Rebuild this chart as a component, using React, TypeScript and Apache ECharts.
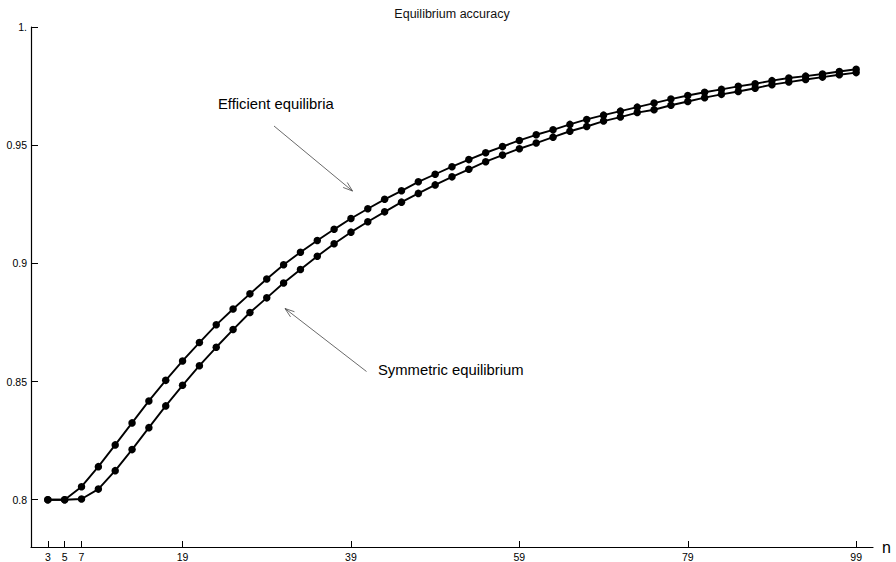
import React, { useEffect, useRef } from 'react';
import * as echarts from 'echarts';

const nValues = [3, 5, 7, 9, 11, 13, 15, 17, 19, 21, 23, 25, 27, 29, 31, 33, 35, 37, 39, 41, 43, 45, 47, 49, 51, 53, 55, 57, 59, 61, 63, 65, 67, 69, 71, 73, 75, 77, 79, 81, 83, 85, 87, 89, 91, 93, 95, 97, 99];

const efficient = [0.8, 0.8, 0.8055, 0.814, 0.8232, 0.8325, 0.8418, 0.8505, 0.8587, 0.8665, 0.874, 0.8807,
  0.8871, 0.8934, 0.8994, 0.9047, 0.9097, 0.9144, 0.919, 0.9231, 0.9271, 0.9307, 0.9345, 0.9377, 0.9409,
  0.9439, 0.9468, 0.9494, 0.952, 0.9544, 0.9565, 0.9588, 0.9609, 0.9627, 0.9644, 0.9661, 0.9678, 0.9695,
  0.971, 0.9724, 0.9736, 0.9749, 0.976, 0.9773, 0.9784, 0.9792, 0.9801, 0.9812, 0.9821];

const symmetric = [0.8, 0.8, 0.8003, 0.8045, 0.8123, 0.8212, 0.8305, 0.8397, 0.8484, 0.8567, 0.8645, 0.872,
  0.8792, 0.8854, 0.8917, 0.8974, 0.903, 0.9083, 0.9132, 0.9176, 0.9218, 0.9259, 0.9296, 0.9332, 0.9366,
  0.9398, 0.943, 0.9458, 0.9485, 0.9509, 0.9534, 0.9559, 0.9579, 0.9602, 0.9619, 0.9638, 0.965, 0.9669,
  0.9685, 0.9701, 0.9715, 0.9727, 0.9741, 0.9756, 0.9767, 0.9778, 0.9788, 0.9798, 0.9807];

const xTicks = [3, 5, 7, 19, 39, 59, 79, 99];
const yTicks = [0.8, 0.85, 0.9, 0.95, 1];

const FONT = '"Liberation Sans", Arial, Helvetica, sans-serif';

function arrow(x1: number, y1: number, x2: number, y2: number) {
  const a = Math.atan2(y2 - y1, x2 - x1);
  const L = 10;
  const t = 0.33;
  const p1 = [x2 - L * Math.cos(a - t), y2 - L * Math.sin(a - t)];
  const p2 = [x2 - L * Math.cos(a + t), y2 - L * Math.sin(a + t)];
  const style = { stroke: '#444', lineWidth: 0.8, fill: 'none' };
  return [
    { type: 'line', shape: { x1, y1, x2, y2 }, style },
    { type: 'polyline', shape: { points: [p1, [x2, y2], p2] }, style },
  ];
}

export default function App() {
  const ref = useRef<HTMLDivElement>(null);
  useEffect(() => {
    if (!ref.current) return;
    const chart = echarts.init(ref.current, undefined, { renderer: 'svg' });
    const axisColor = '#000';
    chart.setOption({
      animation: false,
      backgroundColor: '#fff',
      textStyle: { fontFamily: FONT },
      grid: { left: 31, right: 23, top: 27, bottom: 15, containLabel: false },
      xAxis: {
        type: 'value',
        min: 1,
        max: 101,
        name: 'n',
        nameLocation: 'end',
        nameGap: 9,
        nameTextStyle: { fontSize: 16, color: '#000', fontFamily: FONT, verticalAlign: 'middle' },
        axisLine: { show: true, lineStyle: { color: axisColor, width: 1.2 } },
        axisTick: { show: true, inside: true, length: 6, customValues: xTicks, lineStyle: { color: axisColor, width: 1 } },
        axisLabel: { show: true, customValues: xTicks, fontSize: 10.5, color: '#000', margin: 4, fontFamily: FONT },
        splitLine: { show: false },
      },
      yAxis: {
        type: 'value',
        min: 0.78,
        max: 1,
        axisLine: { show: true, lineStyle: { color: axisColor, width: 1.2 } },
        axisTick: { show: true, inside: true, length: 7, customValues: yTicks, lineStyle: { color: axisColor, width: 1 } },
        axisLabel: {
          show: true,
          customValues: yTicks,
          fontSize: 10.5,
          color: '#000',
          margin: 4,
          fontFamily: FONT,
          formatter: (v: number) => (v === 1 ? '1.' : String(Math.round(v * 100) / 100)),
        },
        splitLine: { show: false },
      },
      series: [
        {
          name: 'Efficient equilibria',
          type: 'line',
          data: nValues.map((n, i) => [n, efficient[i]]),
          symbol: 'circle',
          symbolSize: 7.5,
          lineStyle: { color: '#000', width: 1.9 },
          itemStyle: { color: '#000' },
          z: 3,
        },
        {
          name: 'Symmetric equilibrium',
          type: 'line',
          data: nValues.map((n, i) => [n, symmetric[i]]),
          symbol: 'circle',
          symbolSize: 7.5,
          lineStyle: { color: '#000', width: 1.9 },
          itemStyle: { color: '#000' },
          z: 3,
        },
      ],
      graphic: [
        {
          type: 'text',
          x: 452,
          y: 14,
          style: { text: 'Equilibrium accuracy', font: `12.5px ${FONT}`, fill: '#111', textAlign: 'center', textVerticalAlign: 'middle' },
        },
        {
          type: 'text',
          x: 218,
          y: 104,
          style: { text: 'Efficient equilibria', font: `14.8px ${FONT}`, fill: '#000', textAlign: 'left', textVerticalAlign: 'middle' },
        },
        {
          type: 'text',
          x: 378,
          y: 370,
          style: { text: 'Symmetric equilibrium', font: `14.8px ${FONT}`, fill: '#000', textAlign: 'left', textVerticalAlign: 'middle' },
        },
        ...arrow(274, 126, 352.5, 191),
        ...arrow(366.5, 371.5, 285, 308.5),
      ],
    });
    return () => chart.dispose();
  }, []);
  return <div ref={ref} style={{ position: 'fixed', left: 0, top: 0, width: 896, height: 562 }} />;
}
